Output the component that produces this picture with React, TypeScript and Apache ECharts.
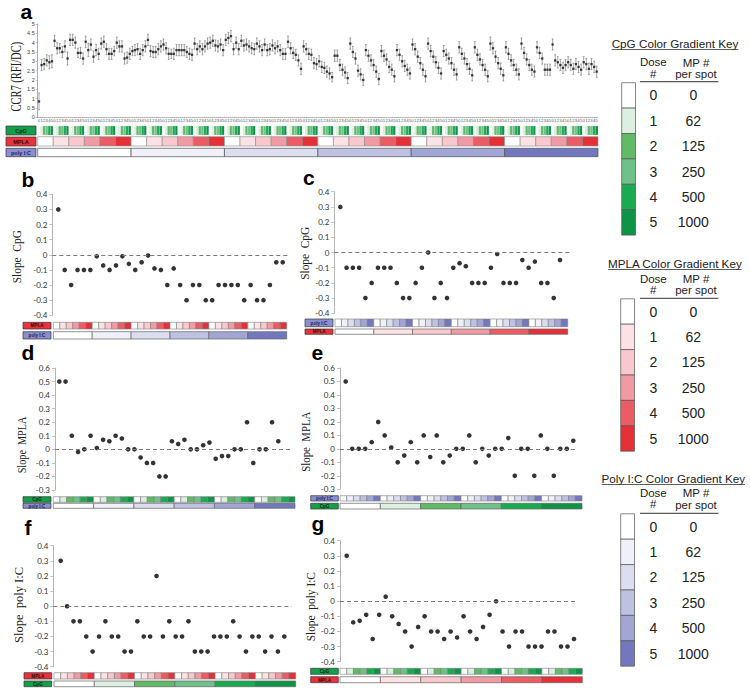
import React, { useEffect, useRef } from "react";
import * as echarts from "echarts";

// ---------- design / keys ----------
const DOSES = [0, 1, 2, 3, 4, 5];
const MP_PER_SPOT = ["0", "62", "125", "250", "500", "1000"];
const CPG_COLORS = ["#ffffff", "#dcefe0", "#62b966", "#6fc089", "#1aab52", "#0e9447"];
const MPLA_COLORS = ["#ffffff", "#fde2e5", "#f9c8cd", "#f29aa3", "#ec5c65", "#e63038"];
const POLY_COLORS = ["#ffffff", "#f0f0f8", "#dcdef0", "#bec1e2", "#a2a6d5", "#7378be"];
const KEY_TITLES = ["CpG Color Gradient Key", "MPLA Color Gradient Key", "Poly I:C Color Gradient Key"];

// ---------- panel a: CCR7 (RFI/DC), 216 conditions (poly I:C outer, MPLA middle, CpG inner) ----------
const CCR7_MEAN = [
  0.85, 2.8, 2.85, 3.05, 2.95, 3.0,
  4.1, 3.7, 3.7, 3.5, 3.8, 3.15,
  4.15, 4.15, 4.0, 3.45, 3.45, 3.15,
  4.05, 3.6, 3.9, 3.25, 3.6, 3.4,
  3.95, 4.05, 3.65, 3.4, 3.4, 3.55,
  4.0, 3.8, 3.8, 3.15, 3.2, 3.4,
  3.55, 3.6, 3.65, 3.4, 3.6, 3.8,
  4.15, 3.55, 3.5, 3.5, 3.65, 3.8,
  3.9, 3.7, 3.4, 3.4, 3.4, 3.6,
  3.6, 3.6, 3.6, 3.5, 3.4, 3.35,
  3.95, 3.65, 3.8, 3.65, 3.8, 3.95,
  4.0, 4.1, 3.85, 3.8, 3.9, 3.6,
  4.15, 4.25, 4.35, 3.65, 4.0, 3.65,
  4.1, 3.85, 3.9, 3.8, 3.7, 3.65,
  3.95, 3.8, 3.6, 3.9, 3.6, 3.65,
  3.85, 3.7, 3.8, 3.6, 3.4, 3.4,
  4.05, 3.7, 3.45, 3.35, 3.05, 2.6,
  3.8, 3.65, 3.4, 3.35, 2.9, 2.85,
  3.0, 2.7, 2.65, 2.45, 2.35, 2.15,
  3.3, 3.3, 2.8, 2.55, 2.4, 2.1,
  3.95, 3.5, 3.15, 2.5, 2.3, 2.0,
  3.6, 3.3, 3.05, 2.8, 2.45, 2.05,
  3.55, 3.3, 3.1, 2.7, 2.55, 2.2,
  3.6, 3.35, 3.0, 2.75, 2.55, 2.35,
  3.9, 3.65, 3.25, 2.9, 2.55, 2.2,
  3.95, 3.55, 3.25, 2.95, 2.65, 2.35,
  3.55, 3.35, 3.15, 2.9, 2.55, 2.3,
  3.75, 3.4, 3.15, 2.85, 2.6, 2.25,
  3.75, 3.35, 3.1, 2.8, 2.55, 2.2,
  3.95, 3.7, 3.25, 2.9, 2.6, 2.25,
  3.75, 3.4, 3.05, 2.8, 2.55, 2.3,
  3.95, 3.45, 3.1, 2.8, 2.55, 2.45,
  3.75, 3.45, 3.15, 2.55, 2.55, 2.55,
  3.9, 3.05, 2.95, 2.8, 2.65, 2.8,
  2.95, 2.8, 2.6, 2.85, 2.7, 2.55,
  2.95, 2.85, 2.6, 2.85, 2.7, 2.45,
];
const CCR7_ERR = [
  0.45, 0.3, 0.3, 0.3, 0.35, 0.35,
  0.3, 0.3, 0.25, 0.3, 0.3, 0.35,
  0.3, 0.3, 0.3, 0.25, 0.3, 0.3,
  0.3, 0.35, 0.3, 0.3, 0.3, 0.3,
  0.3, 0.3, 0.3, 0.3, 0.3, 0.25,
  0.3, 0.3, 0.3, 0.3, 0.3, 0.3,
  0.25, 0.3, 0.3, 0.3, 0.3, 0.3,
  0.3, 0.3, 0.3, 0.3, 0.3, 0.3,
  0.3, 0.3, 0.3, 0.25, 0.3, 0.3,
  0.3, 0.3, 0.3, 0.3, 0.3, 0.3,
  0.3, 0.3, 0.3, 0.3, 0.3, 0.3,
  0.3, 0.3, 0.3, 0.3, 0.3, 0.3,
  0.3, 0.3, 0.3, 0.3, 0.3, 0.3,
  0.3, 0.3, 0.3, 0.3, 0.3, 0.3,
  0.3, 0.3, 0.3, 0.3, 0.3, 0.3,
  0.3, 0.3, 0.3, 0.3, 0.3, 0.3,
  0.3, 0.3, 0.3, 0.3, 0.3, 0.3,
  0.3, 0.3, 0.3, 0.3, 0.3, 0.3,
  0.3, 0.3, 0.3, 0.3, 0.3, 0.25,
  0.3, 0.3, 0.3, 0.3, 0.3, 0.3,
  0.3, 0.3, 0.3, 0.3, 0.3, 0.3,
  0.3, 0.3, 0.3, 0.3, 0.3, 0.3,
  0.3, 0.3, 0.3, 0.3, 0.3, 0.3,
  0.3, 0.3, 0.3, 0.3, 0.3, 0.3,
  0.3, 0.3, 0.3, 0.3, 0.3, 0.3,
  0.3, 0.3, 0.3, 0.3, 0.3, 0.3,
  0.3, 0.3, 0.3, 0.3, 0.3, 0.3,
  0.3, 0.3, 0.3, 0.3, 0.3, 0.3,
  0.3, 0.3, 0.3, 0.3, 0.3, 0.3,
  0.35, 0.3, 0.3, 0.3, 0.3, 0.3,
  0.3, 0.3, 0.3, 0.3, 0.3, 0.3,
  0.3, 0.3, 0.3, 0.3, 0.3, 0.3,
  0.3, 0.3, 0.3, 0.3, 0.3, 0.3,
  0.3, 0.3, 0.3, 0.3, 0.3, 0.3,
  0.3, 0.3, 0.3, 0.3, 0.3, 0.3,
  0.3, 0.3, 0.3, 0.3, 0.3, 0.3,
];

// ---------- panels b-g: slopes (36 each) ----------
const SLOPE_B = [0.3, -0.1, -0.2, -0.1, -0.1, -0.1, -0.01, -0.07, -0.1, -0.07, -0.01, -0.06, -0.1, -0.05, -0.005, -0.09, -0.1, -0.2, -0.09, -0.2, -0.3, -0.2, -0.2, -0.3, -0.3, -0.2, -0.2, -0.2, -0.2, -0.3, -0.2, -0.3, -0.3, -0.2, -0.05, -0.05];
const SLOPE_C = [0.3, -0.1, -0.1, -0.1, -0.3, -0.2, -0.1, -0.1, -0.1, -0.2, -0.3, -0.3, -0.2, -0.1, 0, -0.3, -0.2, -0.3, -0.1, -0.07, -0.09, -0.2, -0.2, -0.2, -0.1, -0.01, -0.2, -0.2, -0.2, -0.05, -0.1, -0.06, -0.2, -0.2, -0.3, -0.05];
const SLOPE_D = [0.5, 0.5, 0.1, -0.02, 0, 0.1, 0.01, 0.07, 0.06, 0.1, 0.08, 0, 0, -0.06, -0.1, -0.1, -0.2, -0.2, 0.06, 0.04, 0.07, 0, 0, 0.03, 0.05, -0.07, -0.05, -0.05, 0, 0, 0.2, -0.1, 0, 0, 0.2, 0.06];
const SLOPE_E = [0.5, 0, 0, 0, 0.05, 0.2, 0.1, 0.01, -0.1, -0.05, 0.05, -0.1, 0.1, -0.06, 0.1, -0.1, -0.05, 0, 0, 0.1, -0.1, 0, -0.05, 0, 0, 0.08, -0.2, 0, 0, -0.2, 0.1, 0, -0.2, 0, 0, 0.06];
const SLOPE_F = [0.3, 0, -0.1, -0.1, -0.2, -0.3, -0.2, -0.1, -0.2, -0.2, -0.3, -0.3, -0.1, -0.2, -0.2, 0.2, -0.2, -0.1, -0.2, -0.2, -0.1, -0.3, -0.3, -0.3, -0.2, -0.2, -0.2, -0.1, -0.2, -0.3, -0.2, -0.2, -0.3, -0.2, -0.3, -0.2];
const SLOPE_G = [0.3, -0.14, -0.13, -0.09, -0.25, -0.09, 0.03, -0.1, -0.15, -0.2, -0.3, -0.17, -0.1, -0.2, -0.2, -0.25, -0.2, -0.24, -0.1, -0.2, -0.25, -0.17, -0.09, 0, -0.2, -0.3, -0.2, -0.2, -0.3, -0.3, -0.3, -0.2, -0.2, -0.3, -0.3, -0.25];

const SANS = "Liberation Sans";
const SERIF = "Liberation Serif";

type Cell = [number, number, number];

// cells of the design strips
const innerCells = (): Cell[] => {
  const out: Cell[] = [];
  DOSES.forEach((o) => DOSES.forEach((d) => out.push([o * 6 + d, o * 6 + d + 1, d])));
  return out;
};
const outerCells = (span: number): Cell[] => DOSES.map((d) => [d * span, (d + 1) * span, d] as Cell);
const cpgCellsA = (): Cell[] => {
  const out: Cell[] = [];
  DOSES.forEach((p) => DOSES.forEach((m) => DOSES.forEach((c) => {
    const k = p * 36 + m * 6 + c;
    out.push([k, k + 1, c]);
  })));
  return out;
};
const mplaCellsA = (): Cell[] => {
  const out: Cell[] = [];
  DOSES.forEach((p) => DOSES.forEach((m) => {
    const k = p * 36 + m * 6;
    out.push([k, k + 6, m]);
  }));
  return out;
};

function buildOption() {
  const grid: any[] = [];
  const xAxis: any[] = [];
  const yAxis: any[] = [];
  const series: any[] = [];
  const graphic: any[] = [];

  const addGrid = (box: any, xa: any, ya: any) => {
    const i = grid.length;
    grid.push({ ...box, containLabel: false });
    xAxis.push({ gridIndex: i, ...xa });
    yAxis.push({ gridIndex: i, ...ya });
    return i;
  };

  const addStrip = (left: number, top: number, width: number, height: number, cells: Cell[], colors: string[], stroke: string, lw: number) => {
    const total = cells[cells.length - 1][1];
    const g = addGrid(
      { left, top, width, height },
      { type: "value", min: 0, max: total, show: false },
      { type: "value", min: 0, max: 1, show: false }
    );
    series.push({
      type: "custom",
      xAxisIndex: g,
      yAxisIndex: g,
      silent: true,
      clip: false,
      data: cells,
      renderItem: (_p: any, api: any) => {
        const s = api.value(0);
        const e = api.value(1);
        const d = api.value(2);
        const a = api.coord([s, 1]);
        const b = api.coord([e, 0]);
        return {
          type: "rect",
          shape: { x: a[0], y: a[1], width: b[0] - a[0], height: b[1] - a[1] },
          style: { fill: colors[d], stroke: stroke, lineWidth: lw },
        };
      },
    });
  };

  const addBox = (x: number, y: number, w: number, h: number, text: string, fill: string, color: string, fs: number) => {
    graphic.push({ type: "rect", shape: { x, y, width: w, height: h }, style: { fill, stroke: "#333", lineWidth: 0.7 }, silent: true });
    graphic.push({
      type: "text", x: x + w / 2, y: y + h / 2 + 0.3, silent: true,
      style: { text, fill: color, fontSize: fs, fontFamily: SANS, fontWeight: "bold", align: "center", verticalAlign: "middle" },
    });
  };

  const addLetter = (text: string, x: number, y: number, fs: number) => {
    graphic.push({ type: "text", x, y, silent: true, style: { text, fill: "#000", fontSize: fs, fontFamily: SANS, fontWeight: "bold", align: "left", verticalAlign: "middle" } });
  };

  const addYTitle = (text: string, x: number, y: number, fs: number, sx: number) => {
    graphic.push({
      type: "text", x, y, rotation: Math.PI / 2, scaleX: sx, silent: true,
      style: { text, fill: "#222", fontSize: fs, fontFamily: SERIF, align: "center", verticalAlign: "middle" },
    });
  };

  // ---------------- panel a ----------------
  const ga = addGrid(
    { left: 37.7, top: 24, width: 560.3, height: 93.3 },
    {
      type: "category",
      data: cpgCellsA().map((c) => String(c[2])),
      boundaryGap: true,
      axisLine: { show: true, onZero: false, lineStyle: { color: "#9a9a9a", width: 0.8, type: [1, 1] } },
      axisTick: { show: false },
      axisLabel: { interval: 0, fontSize: 4.3, color: "#555", margin: 1.6, fontFamily: SANS },
    },
    {
      type: "value", min: 0, max: 5, interval: 0.5,
      axisLine: { show: true, onZero: false, lineStyle: { color: "#9a9a9a", width: 0.8 } },
      axisTick: { show: true, length: 2, lineStyle: { color: "#9a9a9a", width: 0.6 } },
      axisLabel: { fontSize: 5.5, color: "#444", margin: 3, fontFamily: SANS },
      splitLine: { show: false },
    }
  );
  series.push({
    type: "custom",
    xAxisIndex: ga,
    yAxisIndex: ga,
    silent: true,
    data: CCR7_MEAN.map((m, i) => [i, m, CCR7_ERR[i]]),
    renderItem: (_p: any, api: any) => {
      const i = api.value(0);
      const m = api.value(1);
      const e = api.value(2);
      const t = api.coord([i, m + e]);
      const b = api.coord([i, m - e]);
      const hw = 0.9;
      const st = { stroke: "#6a6a6a", lineWidth: 0.6 };
      return {
        type: "group",
        children: [
          { type: "line", shape: { x1: t[0], y1: t[1], x2: b[0], y2: b[1] }, style: st },
          { type: "line", shape: { x1: t[0] - hw, y1: t[1], x2: t[0] + hw, y2: t[1] }, style: st },
          { type: "line", shape: { x1: b[0] - hw, y1: b[1], x2: b[0] + hw, y2: b[1] }, style: st },
        ],
      };
    },
  });
  series.push({
    type: "scatter",
    xAxisIndex: ga,
    yAxisIndex: ga,
    silent: true,
    symbol: "rect",
    symbolSize: 2.3,
    itemStyle: { color: "#111" },
    data: CCR7_MEAN.map((m, i) => [i, m]),
  });
  addStrip(37.7, 126, 560.3, 9, cpgCellsA(), CPG_COLORS, "rgba(255,255,255,0.5)", 0.3);
  addStrip(37.7, 136.7, 560.3, 9.3, mplaCellsA(), MPLA_COLORS, "#8a8a8a", 0.6);
  addStrip(37.7, 148.3, 560.3, 8.4, outerCells(36), POLY_COLORS, "#555", 0.7);
  addBox(6, 126, 30, 9, "CpG", "#14a04b", "#0b2a12", 5.5);
  addBox(6, 137, 30, 9, "MPLA", "#e8323c", "#3a0a0c", 5.5);
  addBox(6, 148.3, 30, 8.4, "poly I:C", "#8a8fcf", "#1c1f5e", 5.5);
  addLetter("a", 20.5, 11, 21);
  addYTitle("CCR7 (RFI/DC)", 16, 76.7, 14, 0.75);

  // ---------------- panels b-g ----------------
  const FACTOR: Record<string, { name: string; colors: string[]; fill: string; tc: string }> = {
    cpg: { name: "CpG", colors: CPG_COLORS, fill: "#14a04b", tc: "#0b2a12" },
    mpla: { name: "MPLA", colors: MPLA_COLORS, fill: "#e8323c", tc: "#3a0a0c" },
    poly: { name: "poly I:C", colors: POLY_COLORS, fill: "#8a8fcf", tc: "#1c1f5e" },
  };

  const panels = [
    { letter: "b", lx: 21.5, ly: 179.6, title: "Slope  CpG", tx: 17.2, ty: 256.7, tfs: 12, tsx: 0.95, values: SLOPE_B, ymin: -0.4, ymax: 0.4,
      axisX: 52.3, yTop: 194.3, yBot: 315.3, right: 289, firstX: 58.3, lastX: 282.7,
      sLeft: 53.3, sW: 233.4, s1: { f: "mpla", top: 322.3, h: 6.7 }, s2: { f: "poly", top: 331.7, h: 7.3 }, bx: 23, bw: 28 },
    { letter: "c", lx: 303, ly: 177.6, title: "Slope  CpG", tx: 305, ty: 253.3, tfs: 12, tsx: 0.95, values: SLOPE_C, ymin: -0.4, ymax: 0.4,
      axisX: 334.3, yTop: 191.7, yBot: 313.3, right: 570, firstX: 340.3, lastX: 560,
      sLeft: 335, sW: 232.7, s1: { f: "poly", top: 319, h: 7.7 }, s2: { f: "mpla", top: 329, h: 5.3 }, bx: 305, bw: 28 },
    { letter: "d", lx: 21.5, ly: 352.6, title: "Slope  MPLA", tx: 22, ty: 445, tfs: 12, tsx: 0.85, values: SLOPE_D, ymin: -0.3, ymax: 0.6,
      axisX: 55, yTop: 368, yBot: 490, right: 291.7, firstX: 59.3, lastX: 278.3,
      sLeft: 53.3, sW: 241.7, s1: { f: "cpg", top: 496.7, h: 5.6 }, s2: { f: "poly", top: 503.3, h: 5 }, bx: 23, bw: 28 },
    { letter: "e", lx: 311.5, ly: 352.6, title: "Slope  MPLA", tx: 305.3, ty: 441.7, tfs: 12, tsx: 0.9, values: SLOPE_E, ymin: -0.3, ymax: 0.6,
      axisX: 340, yTop: 368, yBot: 489.3, right: 576.7, firstX: 345.7, lastX: 573.3,
      sLeft: 340, sW: 242, s1: { f: "poly", top: 495.7, h: 5.3 }, s2: { f: "cpg", top: 503.3, h: 5.7 }, bx: 310.7, bw: 27.6 },
    { letter: "f", lx: 24.5, ly: 527.6, title: "Slope  poly I:C", tx: 19, ty: 605, tfs: 12.5, tsx: 1, values: SLOPE_F, ymin: -0.4, ymax: 0.4,
      axisX: 53.3, yTop: 545.7, yBot: 666.7, right: 291.7, firstX: 60.7, lastX: 284.3,
      sLeft: 54, sW: 241.7, s1: { f: "mpla", top: 672.7, h: 6.3 }, s2: { f: "cpg", top: 681, h: 5.7 }, bx: 24, bw: 27.7 },
    { letter: "g", lx: 311.5, ly: 523.3, title: "Slope  poly I:C", tx: 311.3, ty: 606.7, tfs: 12, tsx: 0.95, values: SLOPE_G, ymin: -0.4, ymax: 0.4,
      axisX: 340, yTop: 540.7, yBot: 661.7, right: 577.3, firstX: 346.7, lastX: 574,
      sLeft: 340, sW: 242.3, s1: { f: "cpg", top: 668.3, h: 6 }, s2: { f: "mpla", top: 676.7, h: 6 }, bx: 310.7, bw: 27.6 },
  ];

  panels.forEach((p) => {
    const n = p.values.length;
    const step = (p.lastX - p.firstX) / (n - 1);
    const xmin = -(p.firstX - p.axisX) / step;
    const xmax = n - 1 + (p.right - p.lastX) / step;
    const g = addGrid(
      { left: p.axisX, top: p.yTop, width: p.right - p.axisX, height: p.yBot - p.yTop },
      { type: "value", min: xmin, max: xmax, show: false },
      {
        type: "value", min: p.ymin, max: p.ymax, interval: 0.1,
        axisLine: { show: true, onZero: false, lineStyle: { color: "#b5b5b5", width: 1 } },
        axisTick: { show: true, length: 3, lineStyle: { color: "#b5b5b5", width: 0.8 } },
        axisLabel: { fontSize: 8, color: "#333", margin: 5, fontFamily: "Lato" },
        splitLine: { show: false },
      }
    );
    series.push({
      type: "scatter",
      xAxisIndex: g,
      yAxisIndex: g,
      silent: true,
      symbolSize: 4.6,
      itemStyle: { color: "#000" },
      data: p.values.map((v, i) => [i, v]),
      markLine: {
        silent: true,
        symbol: "none",
        label: { show: false },
        lineStyle: { color: "#7a7a7a", type: [4, 3], width: 1 },
        data: [{ yAxis: 0 }],
      },
    });
    const f1 = FACTOR[p.s1.f];
    const f2 = FACTOR[p.s2.f];
    addStrip(p.sLeft, p.s1.top, p.sW, p.s1.h, innerCells(), f1.colors, "#7d7d7d", 0.6);
    addStrip(p.sLeft, p.s2.top, p.sW, p.s2.h, outerCells(6), f2.colors, "#666", 0.7);
    addBox(p.bx, p.s1.top, p.bw, p.s1.h, f1.name, f1.fill, f1.tc, 4.6);
    addBox(p.bx, p.s2.top, p.bw, p.s2.h, f2.name, f2.fill, f2.tc, 4.6);
    addLetter(p.letter, p.lx, p.ly, 21);
    addYTitle(p.title, p.tx, p.ty, p.tfs, p.tsx);
  });

  // ---------------- color gradient keys ----------------
  const keys = [
    { colors: CPG_COLORS, titleY: 43.3, ux1: 611.7, ux2: 738.3, h1: 62.5, h2: 74.3, lineY: 81.7, colTop: 82.7, colX: 621.7 },
    { colors: MPLA_COLORS, titleY: 263.3, ux1: 608, ux2: 741.7, h1: 279.3, h2: 290.3, lineY: 298.3, colTop: 298.8, colX: 620.7 },
    { colors: POLY_COLORS, titleY: 478.3, ux1: 601.7, ux2: 745, h1: 493.3, h2: 504.6, lineY: 513.3, colTop: 513.8, colX: 620.7 },
  ];
  const cellH = 25.4;
  keys.forEach((k, ki) => {
    const lh = k.h2 - k.h1;
    const hc = (k.h1 + k.h2) / 2;
    graphic.push({ type: "text", x: (k.ux1 + k.ux2) / 2, y: k.titleY, silent: true,
      style: { text: KEY_TITLES[ki], fill: "#222", fontSize: 11.7, fontFamily: SANS, align: "center", verticalAlign: "middle" } });
    graphic.push({ type: "line", silent: true, shape: { x1: k.ux1, y1: k.titleY + 6.2, x2: k.ux2, y2: k.titleY + 6.2 }, style: { stroke: "#333", lineWidth: 0.8 } });
    graphic.push({ type: "text", x: 653.3, y: hc - 0.5, silent: true,
      style: { text: "Dose\n#", fill: "#222", fontSize: 11.5, lineHeight: lh, fontFamily: SANS, align: "center", verticalAlign: "middle" } });
    graphic.push({ type: "text", x: 696, y: hc, silent: true,
      style: { text: "MP #\nper spot", fill: "#222", fontSize: 11.5, lineHeight: lh, fontFamily: SANS, align: "center", verticalAlign: "middle" } });
    graphic.push({ type: "line", silent: true, shape: { x1: 640, y1: k.lineY, x2: 718.3, y2: k.lineY }, style: { stroke: "#333", lineWidth: 1 } });
    DOSES.forEach((d) => {
      const y = k.colTop + d * cellH;
      graphic.push({ type: "rect", silent: true, shape: { x: k.colX, y, width: 13.8, height: cellH }, style: { fill: k.colors[d], stroke: "#555", lineWidth: 0.7 } });
      graphic.push({ type: "text", x: 653.3, y: y + cellH / 2, silent: true, style: { text: String(d), fill: "#222", fontSize: 14, fontFamily: SANS, align: "center", verticalAlign: "middle" } });
      graphic.push({ type: "text", x: 693.3, y: y + cellH / 2, silent: true, style: { text: MP_PER_SPOT[d], fill: "#222", fontSize: 14, fontFamily: SANS, align: "center", verticalAlign: "middle" } });
    });
  });

  return {
    animation: false,
    backgroundColor: "#ffffff",
    grid,
    xAxis,
    yAxis,
    series,
    graphic: { elements: graphic },
  };
}

export default function App() {
  const ref = useRef<HTMLDivElement>(null);
  useEffect(() => {
    if (!ref.current) return;
    const chart = echarts.init(ref.current, null, { renderer: "svg" });
    chart.setOption(buildOption() as any);
    return () => chart.dispose();
  }, []);
  return (
    <div
      ref={ref}
      style={{ position: "absolute", left: 0, top: 0, width: 750, height: 692, background: "#fff" }}
    />
  );
}
